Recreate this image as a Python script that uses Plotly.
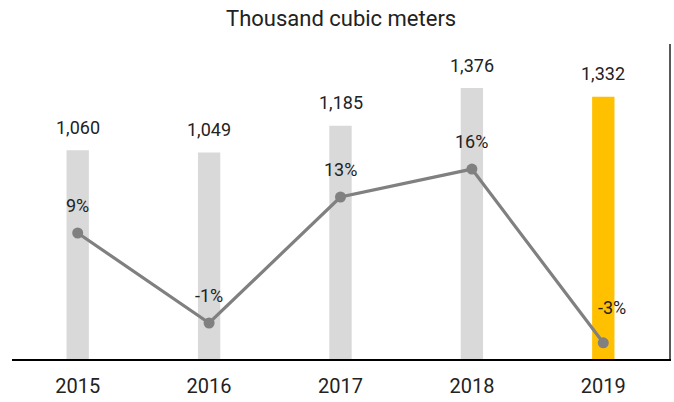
import plotly.graph_objects as go

years = ["2015", "2016", "2017", "2018", "2019"]
volumes = [1060, 1049, 1185, 1376, 1332]
growth_pct = [9.0, -1.0, 13.0, 16.1, -3.2]
bar_colors = ["#d9d9d9", "#d9d9d9", "#d9d9d9", "#d9d9d9", "#ffc000"]
title_text = "Thousand cubic meters"

FONT = "Roboto"
TXT = "#222222"

fig = go.Figure()
fig.add_trace(go.Bar(
    x=years, y=volumes, marker=dict(color=bar_colors, line=dict(width=0)),
    width=0.17, hoverinfo="skip", showlegend=False,
))
fig.add_trace(go.Scatter(
    x=years, y=growth_pct, yaxis="y2", mode="lines+markers",
    line=dict(color="#808080", width=3.2),
    marker=dict(color="#808080", size=11),
    hoverinfo="skip", showlegend=False,
))

annotations = []
for i, v in enumerate(volumes):
    annotations.append(dict(
        x=i, y=v, xref="x", yref="y", text=f"{v:,}", showarrow=False,
        yanchor="middle", yshift=23, font=dict(family=FONT, size=18, color=TXT),
    ))
last = len(years) - 1
for i, g in enumerate(growth_pct):
    annotations.append(dict(
        x=i, y=g, xref="x", yref="y2", text=f"{round(g)}%", showarrow=False,
        yanchor="middle", yshift=(35 if i == last else 28),
        xshift=(9 if i == last else 0),
        font=dict(family=FONT, size=18, color=TXT),
    ))
annotations.append(dict(
    x=0.5, y=1, xref="paper", yref="paper", text=title_text, showarrow=False,
    yanchor="middle", yshift=26, font=dict(family=FONT, size=22, color=TXT),
))

fig.update_layout(
    width=674, height=402,
    margin=dict(l=12, r=5, t=44, b=43),
    paper_bgcolor="white", plot_bgcolor="white",
    font=dict(family=FONT, color=TXT),
    xaxis=dict(type="category", range=[-0.5, len(years) - 0.5], showline=True,
               linecolor="#000000", linewidth=2,
               ticks="", showgrid=False,
               tickfont=dict(family=FONT, size=20, color=TXT),
               ticklabelstandoff=8),
    yaxis=dict(range=[0, 1600], visible=False, showgrid=False, zeroline=False),
    yaxis2=dict(range=[-5, 30], overlaying="y", side="right", showline=True,
                linecolor="#595959", linewidth=1.5, showticklabels=False,
                ticks="", showgrid=False, zeroline=False),
    annotations=annotations,
)

fig.write_html("out.html", config={"displayModeBar": False},
               post_script="document.body.style.margin='0';document.body.style.overflow='hidden';")
